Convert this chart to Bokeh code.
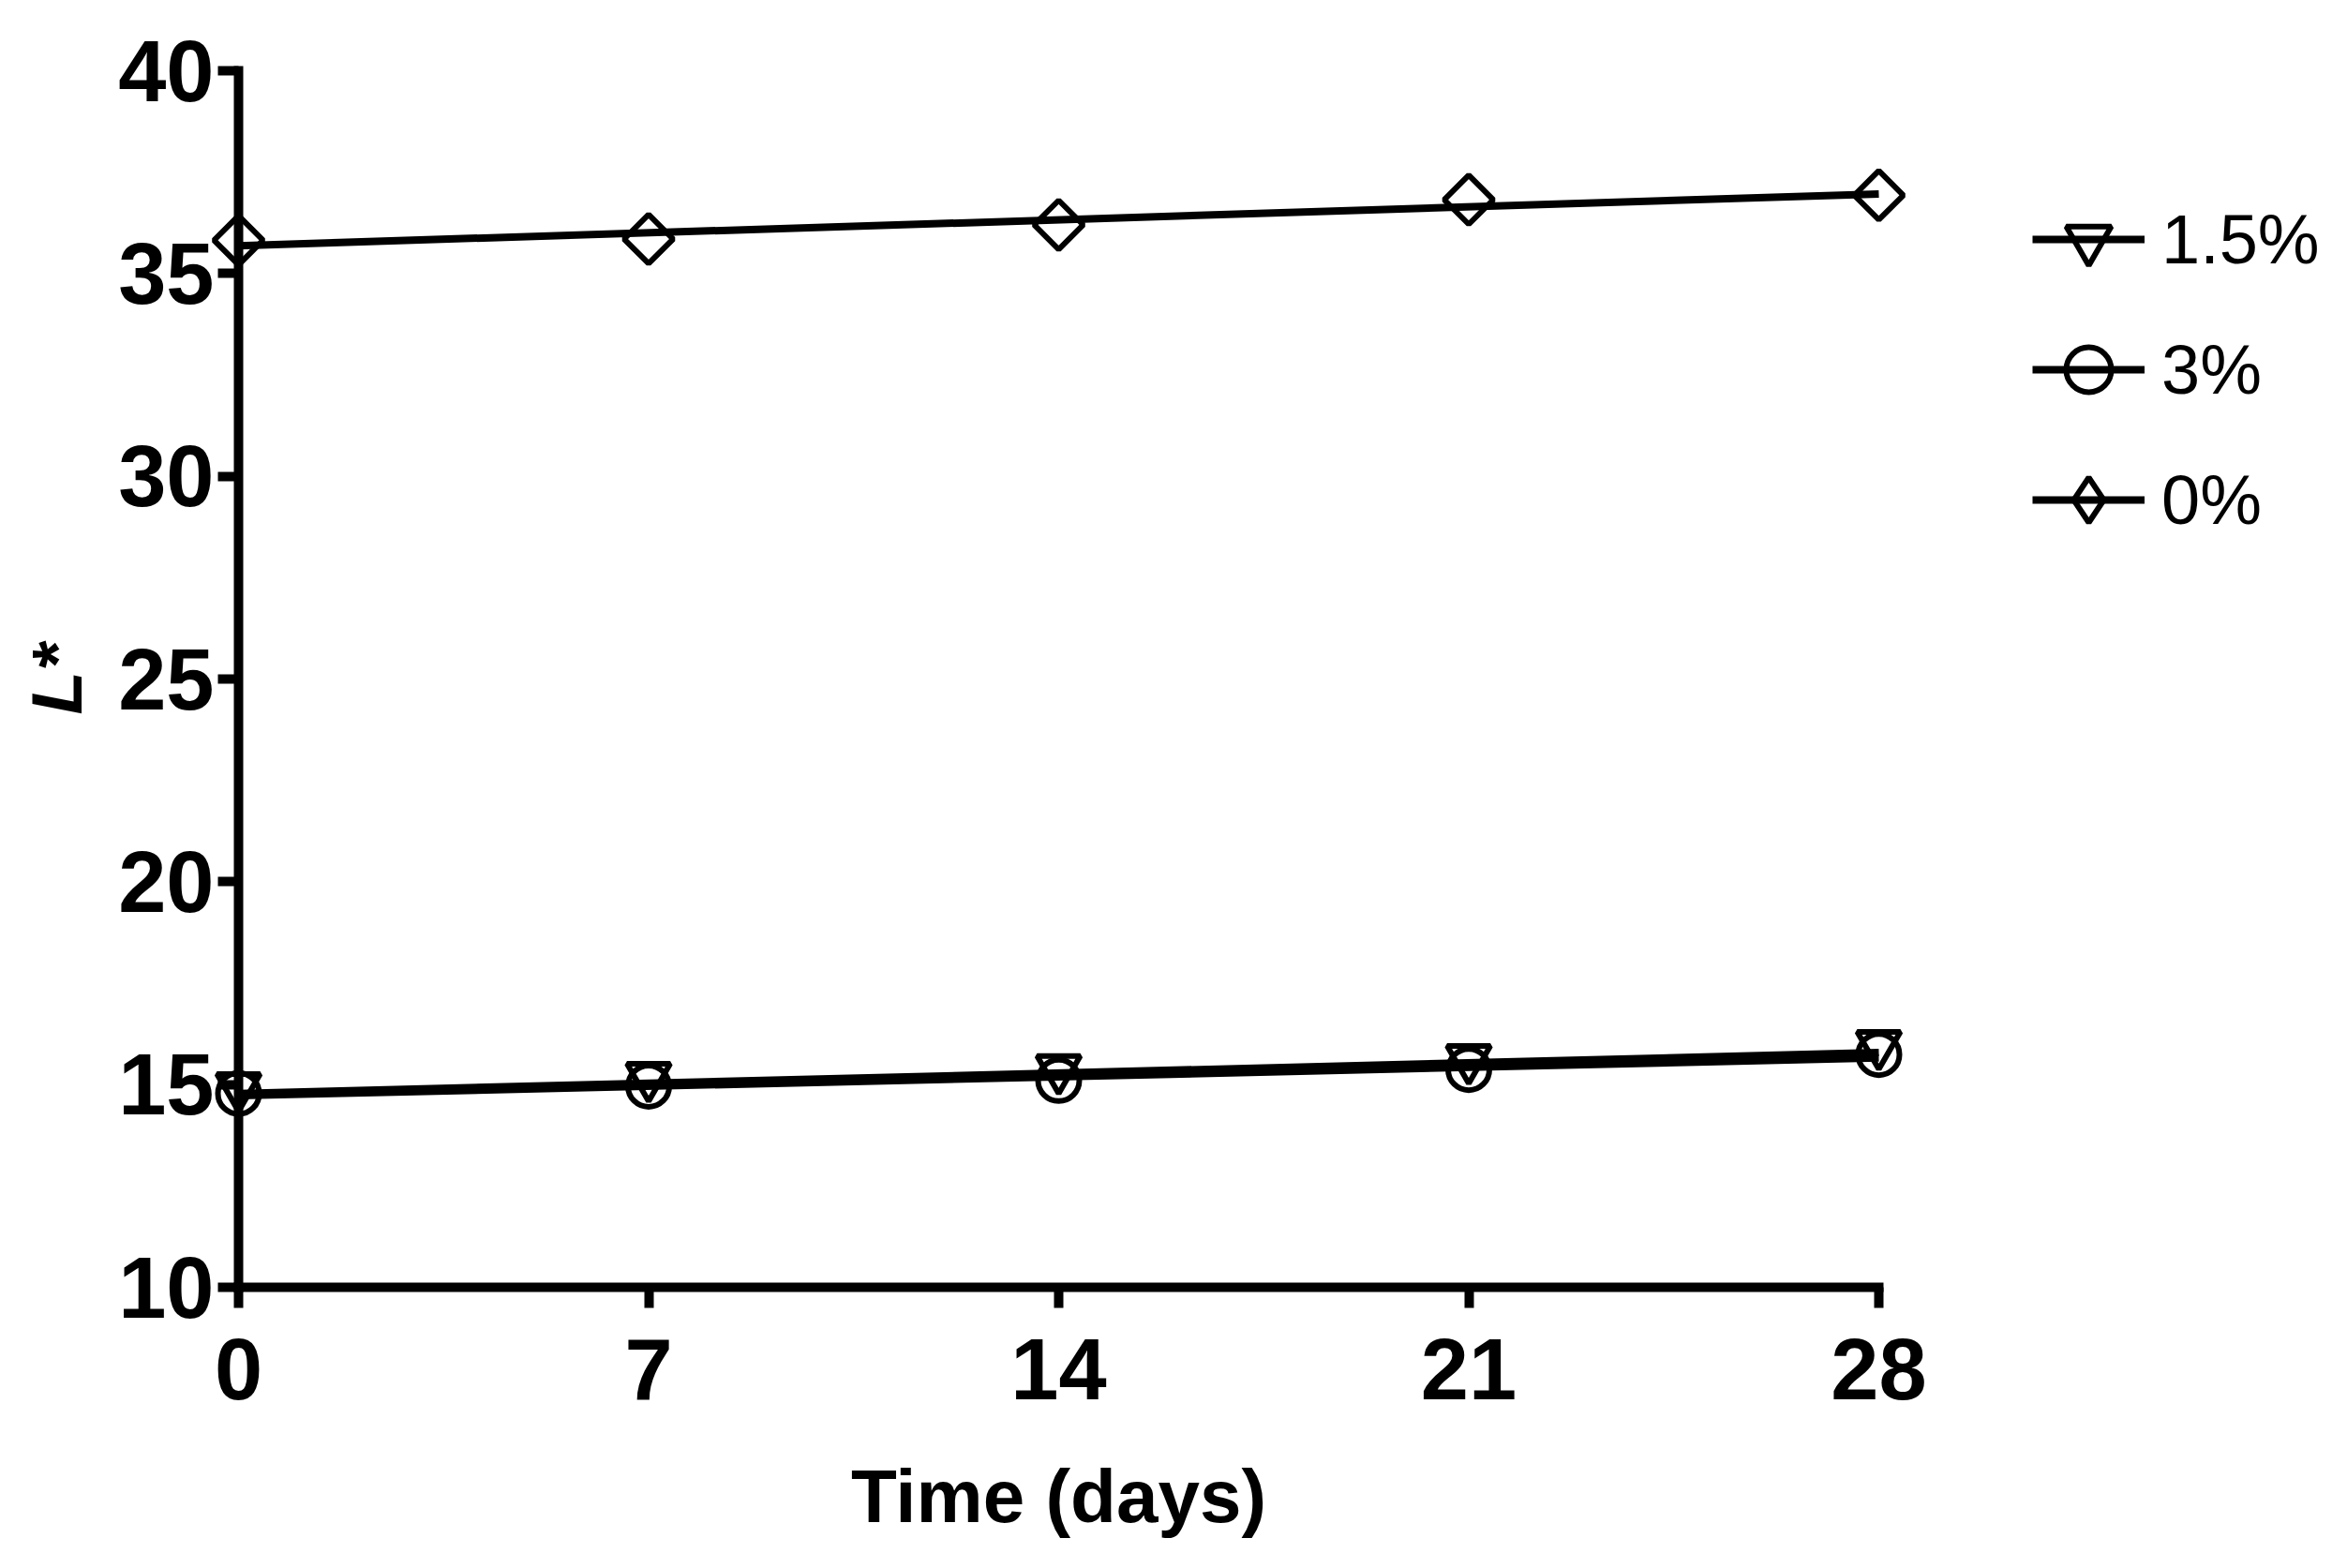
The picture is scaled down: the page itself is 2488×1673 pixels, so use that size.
import numpy as np
from bokeh.plotting import figure
from bokeh.models import Range1d, FixedTicker, Legend, LegendItem
from bokeh.embed import file_html
from bokeh.resources import INLINE

# ---- data ----
days = [0, 7, 14, 21, 28]
labels = ["1.5%", "3%", "0%"]
l_1_5 = [14.80, 15.05, 15.24, 15.49, 15.84]
l_3 = [14.78, 14.96, 15.10, 15.37, 15.74]
l_0 = [35.82, 35.85, 36.20, 36.82, 36.93]
y_ticks = [10, 15, 20, 25, 30, 35, 40]
x_ticks = [0, 7, 14, 21, 28]

FONT = "'Liberation Sans', Arial, sans-serif"

# ---- layout (pixels) ----
W, H = 2480, 1665
PX_X = 62.5            # pixels per day
PX_Y = 1298 / 30       # pixels per L* unit
X0_PX = 254            # where day 0 sits, from the left edge
YTOP_PX = 75           # where L* = 40 sits, from the top edge

x_start = x_ticks[0] - X0_PX / PX_X
x_end = x_start + W / PX_X
y_end = y_ticks[-1] + YTOP_PX / PX_Y
y_start = y_end - H / PX_Y

p = figure(width=W, height=H, output_backend="svg", toolbar_location=None,
           x_range=Range1d(x_start, x_end), y_range=Range1d(y_start, y_end),
           min_border=0, title=None)
p.outline_line_color = None
p.grid.visible = False
p.background_fill_color = "white"
p.border_fill_color = "white"

for ax in (p.xaxis[0], p.yaxis[0]):
    ax.axis_line_width = 10
    ax.axis_line_color = "black"
    ax.axis_line_cap = "square"
    ax.major_tick_line_width = 10
    ax.major_tick_line_color = "black"
    ax.major_tick_in = 0
    ax.major_tick_out = 22
    ax.minor_tick_line_color = None
    ax.major_label_text_font = FONT
    ax.major_label_text_font_style = "bold"
    ax.major_label_text_font_size = "92px"
    ax.major_label_text_color = "black"
    ax.axis_label_text_font = FONT
    ax.axis_label_text_color = "black"

p.xaxis.ticker = FixedTicker(ticks=x_ticks)
p.yaxis.ticker = FixedTicker(ticks=y_ticks)
p.xaxis.bounds = (x_ticks[0], x_ticks[-1])
p.yaxis.bounds = (y_ticks[0], y_ticks[-1])
p.xaxis.fixed_location = y_ticks[0]
p.yaxis.fixed_location = x_ticks[0]
p.xaxis.major_label_standoff = 33
p.yaxis.major_label_standoff = 4

p.xaxis.axis_label = "Time (days)"
p.xaxis.axis_label_text_font_style = "bold"
p.xaxis.axis_label_text_font_size = "80px"
p.xaxis.axis_label_standoff = 56

p.yaxis.axis_label = "L*"
p.yaxis.axis_label_text_font_style = "bold italic"
p.yaxis.axis_label_text_font_size = "76px"
p.yaxis.axis_label_standoff = 20

# triangle markers are anchored at their box centre in the reference
TRI_SIZE = 46
tri_shift = (TRI_SIZE / 2 * np.sqrt(3) / 6) / PX_Y
p.extra_y_ranges = {"tri": Range1d(y_start - tri_shift, y_end - tri_shift)}


def fit(y):
    k, b = np.polyfit(days, y, 1)
    xs = np.array([days[0], days[-1]], dtype=float)
    return xs, k * xs + b


xs, ys = fit(l_1_5)
ln15 = p.line(xs, ys, line_width=8, line_color="black")
xs, ys = fit(l_3)
ln3 = p.line(xs, ys, line_width=8, line_color="black")
xs, ys = fit(l_0)
ln0 = p.line(xs, ys, line_width=8, line_color="black")

sc15 = p.scatter(days, l_1_5, marker="inverted_triangle", size=TRI_SIZE, line_width=6,
                 line_color="black", fill_alpha=0, y_range_name="tri")
sc3 = p.scatter(days, l_3, marker="circle", size=44, line_width=6,
                line_color="black", fill_alpha=0)
sc0 = p.scatter(days, l_0, marker="square", angle=np.pi / 4, size=37, line_width=6,
                line_color="black", fill_alpha=0)
# same points, drawn only as the (narrower) legend key
sc0_key = p.scatter(days, l_0, marker="diamond", size=54, line_width=6,
                    line_color="black", fill_alpha=0, visible=False)

legend = Legend(items=[
    LegendItem(label=labels[0], renderers=[ln15, sc15]),
    LegendItem(label=labels[1], renderers=[ln3, sc3]),
    LegendItem(label=labels[2], renderers=[ln0, sc0_key]),
], location=(2168, H - 593))
legend.click_policy = "none"
legend.glyph_width = 120
legend.glyph_height = 120
legend.label_standoff = 18
legend.spacing = 19
legend.padding = 0
legend.margin = 0
legend.border_line_color = None
legend.background_fill_alpha = 0
legend.label_text_font = FONT
legend.label_text_font_size = "74px"
legend.label_text_color = "black"
p.add_layout(legend)

open("out.html", "w").write(file_html(p, INLINE))
